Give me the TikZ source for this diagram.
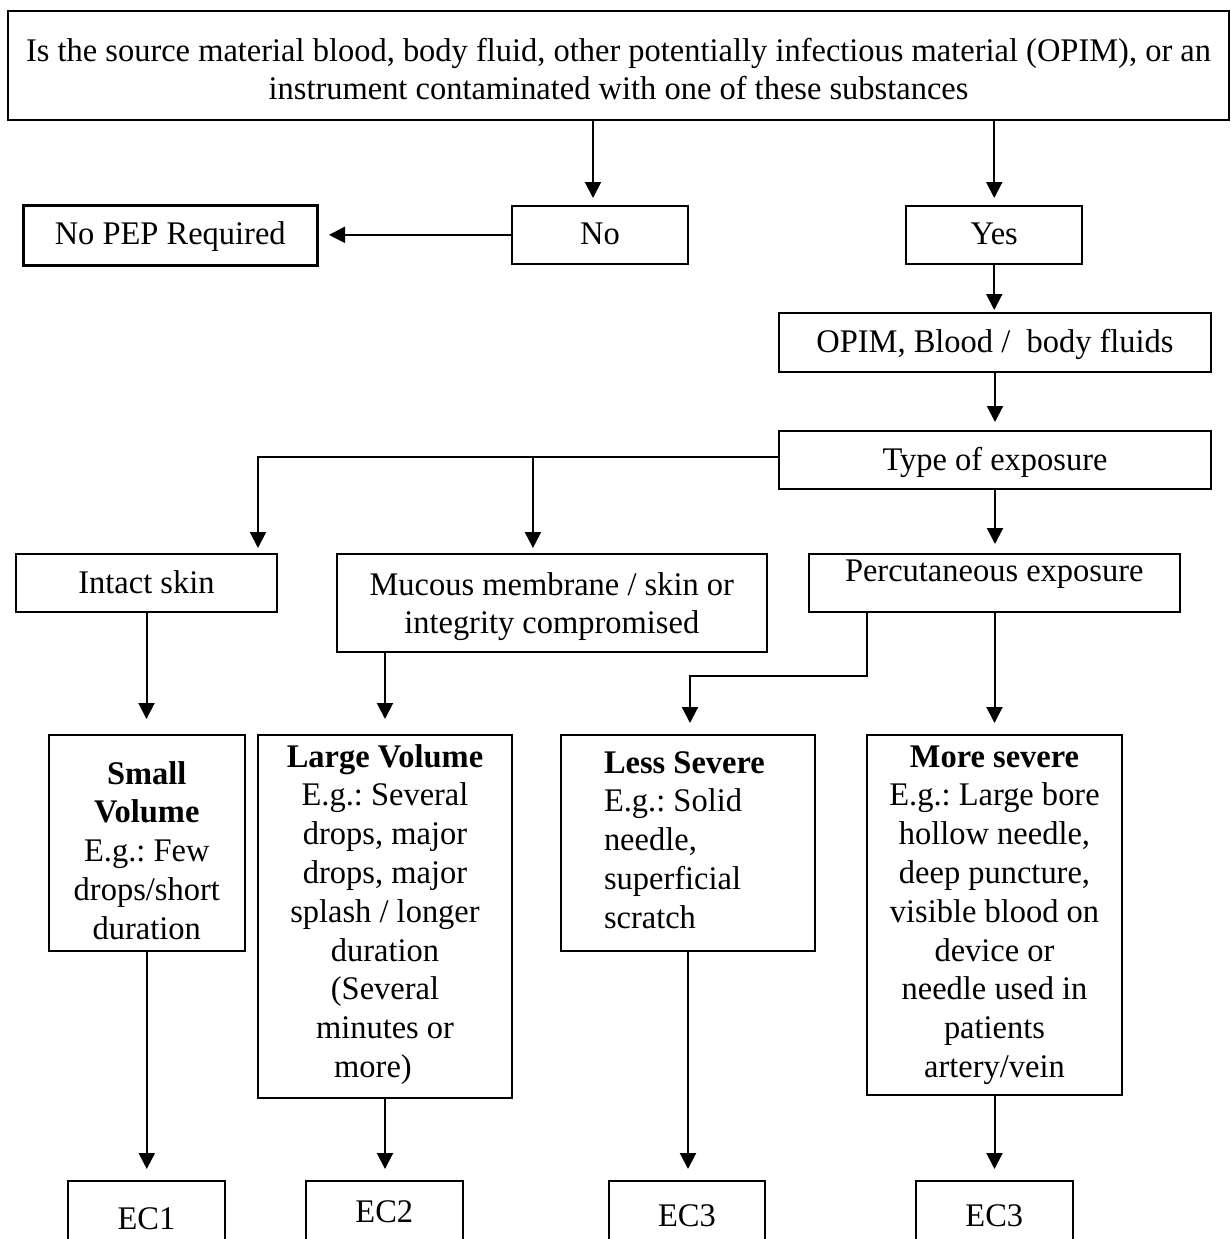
\documentclass[tikz,border=0pt]{standalone}
\usepackage{fontspec}
\setmainfont{Liberation Serif}[FakeStretch=0.984]
\usetikzlibrary{arrows.meta}
\newcommand\bx[2]{\raisebox{#1}[0pt][0pt]{\begin{tabular}[t]{@{}c@{}}#2\end{tabular}}}
\newcommand\bxl[3]{\raisebox{#1}[0pt][0pt]{\makebox[#2][l]{\begin{tabular}[t]{@{}l@{}}#3\end{tabular}}}}
\frenchspacing
\begin{document}
\begin{tikzpicture}[x=0.5pt,y=-0.5pt,
  box/.style={draw,line width=1pt,inner sep=0pt,outer sep=0pt,anchor=center,
    font=\fontsize{16.5pt}{19.4pt}\selectfont\frenchspacing},
  arr/.style={line width=1pt,-{Triangle[length=8pt,width=8pt]}},
  ln/.style={line width=1pt}]
\path[use as bounding box] (0,0) rectangle (1231,1239);
\clip (0,0) rectangle (1231,1239);

% nodes
\node[box,line width=1.2pt,minimum width=610.5pt,minimum height=54.65pt] (top) at (618.5,65.4)
  {\bx{2.2pt}{Is the source material blood, body fluid, other potentially infectious material (OPIM), or an\\instrument contaminated with one of these substances}};
\node[box,line width=1.5pt,minimum width=147.25pt,minimum height=30pt] (nopep) at (170.25,235)
  {\bx{-4.5pt}{No PEP Required}};
\node[box,minimum width=88pt,minimum height=29.15pt] (no) at (600,234.85) {\bx{-4.7pt}{No}};
\node[box,minimum width=88pt,minimum height=29.15pt] (yes) at (994.25,234.85) {\bx{-4.7pt}{Yes}};
\node[box,minimum width=216pt,minimum height=29.5pt] (opim) at (995,342.5)
  {\bx{-4.75pt}{OPIM, Blood /~ body fluids}};
\node[box,minimum width=216pt,minimum height=29pt] (type) at (995,460)
  {\bx{-5pt}{Type of exposure}};
\node[box,minimum width=130.5pt,minimum height=29pt] (intact) at (146.5,583)
  {\bx{-5pt}{Intact skin}};
\node[box,minimum width=215.25pt,minimum height=49pt] (mucous) at (551.75,603)
  {\bx{4pt}{Mucous membrane / skin or\\integrity compromised}};
\node[box,minimum width=185.75pt,minimum height=29pt] (perc) at (994.25,583)
  {\bx{0.65pt}{Percutaneous exposure}};
\node[box,minimum width=98.2pt,minimum height=108pt] (small) at (146.8,843)
  {\bx{29.5pt}{\textbf{Small}\\\textbf{Volume}\\E.g.: Few\\drops/short\\duration}};
\node[box,minimum width=127pt,minimum height=181.5pt] (large) at (385,916.5)
  {\bx{74.75pt}{\textbf{Large Volume}\\E.g.: Several\\drops, major\\drops, major\\splash / longer\\duration\\(Several\\minutes or\\more)\hspace*{12pt}}};
\node[box,minimum width=127pt,minimum height=108pt] (less) at (688,843)
  {\bxl{35pt}{84pt}{\textbf{Less Severe}\\E.g.: Solid\\needle,\\superficial\\scratch}};
\node[box,minimum width=127.5pt,minimum height=180pt] (more) at (994.5,915)
  {\bx{74pt}{\textbf{More severe}\\E.g.: Large bore\\hollow needle,\\deep puncture,\\visible blood on\\device or\\needle used in\\patients\\artery/vein}};
\node[box,minimum width=78.5pt,minimum height=70pt] (ec1) at (146.5,1251) {\bx{11pt}{EC1}};
\node[box,minimum width=78.3pt,minimum height=70pt] (ec2) at (384.3,1251) {\bx{14.5pt}{EC2}};
\node[box,minimum width=78pt,minimum height=70pt] (ec3a) at (687,1251) {\bx{12.5pt}{EC3}};
\node[box,minimum width=78.3pt,minimum height=70pt] (ec3b) at (994.3,1251) {\bx{12.5pt}{EC3}};

% helper coordinates
\coordinate (noIn) at ([xshift=-3.5pt]no.north);
\coordinate (intIn) at ([xshift=-9.5pt]intact.north east);
\coordinate (mucIn) at ([xshift=-9.4pt]mucous.north);
\coordinate (typeW) at ([yshift=1.5pt]type.west);
\coordinate (pOut) at ([xshift=29.1pt]perc.south west);
\coordinate (lessIn) at ([xshift=1pt]less.north);

% connectors
\draw[arr,shorten >=3.85pt] (top.south -| noIn) -- (noIn);
\draw[arr,shorten >=3.85pt] (top.south -| yes.north) -- (yes.north);
\draw[arr,shorten >=5.75pt] (no.west) -- (no.west -| nopep.east);
\draw[arr,shorten >=1.5pt] (yes.south) -- (yes.south |- opim.north);
\draw[arr,shorten >=4.5pt] (opim.south) -- (opim.south |- type.north);
\draw[arr,shorten >=3pt] (typeW) -| (intIn);
\draw[arr,shorten >=3pt] (typeW -| mucIn) -- (mucIn);
\draw[arr,shorten >=5pt] (type.south) -- (type.south |- perc.north);
\draw[arr,shorten >=8pt] (intact.south) -- (intact.south |- small.north);
\draw[arr,shorten >=8pt] (large.north |- mucous.south) -- (large.north);
\draw[arr,shorten >=6pt] (pOut) -- ++(0pt,-31.85pt) -| (lessIn);
\draw[arr,shorten >=6pt] (perc.south -| more.north) -- (more.north);
\draw[arr,shorten >=6pt] (small.south) -- (small.south |- ec1.north);
\draw[arr,shorten >=6pt] (large.south) -- (large.south |- ec2.north);
\draw[arr,shorten >=6pt] (less.south) -- (less.south |- ec3a.north);
\draw[arr,shorten >=6pt] (more.south) -- (more.south |- ec3b.north);
\end{tikzpicture}
\end{document}
